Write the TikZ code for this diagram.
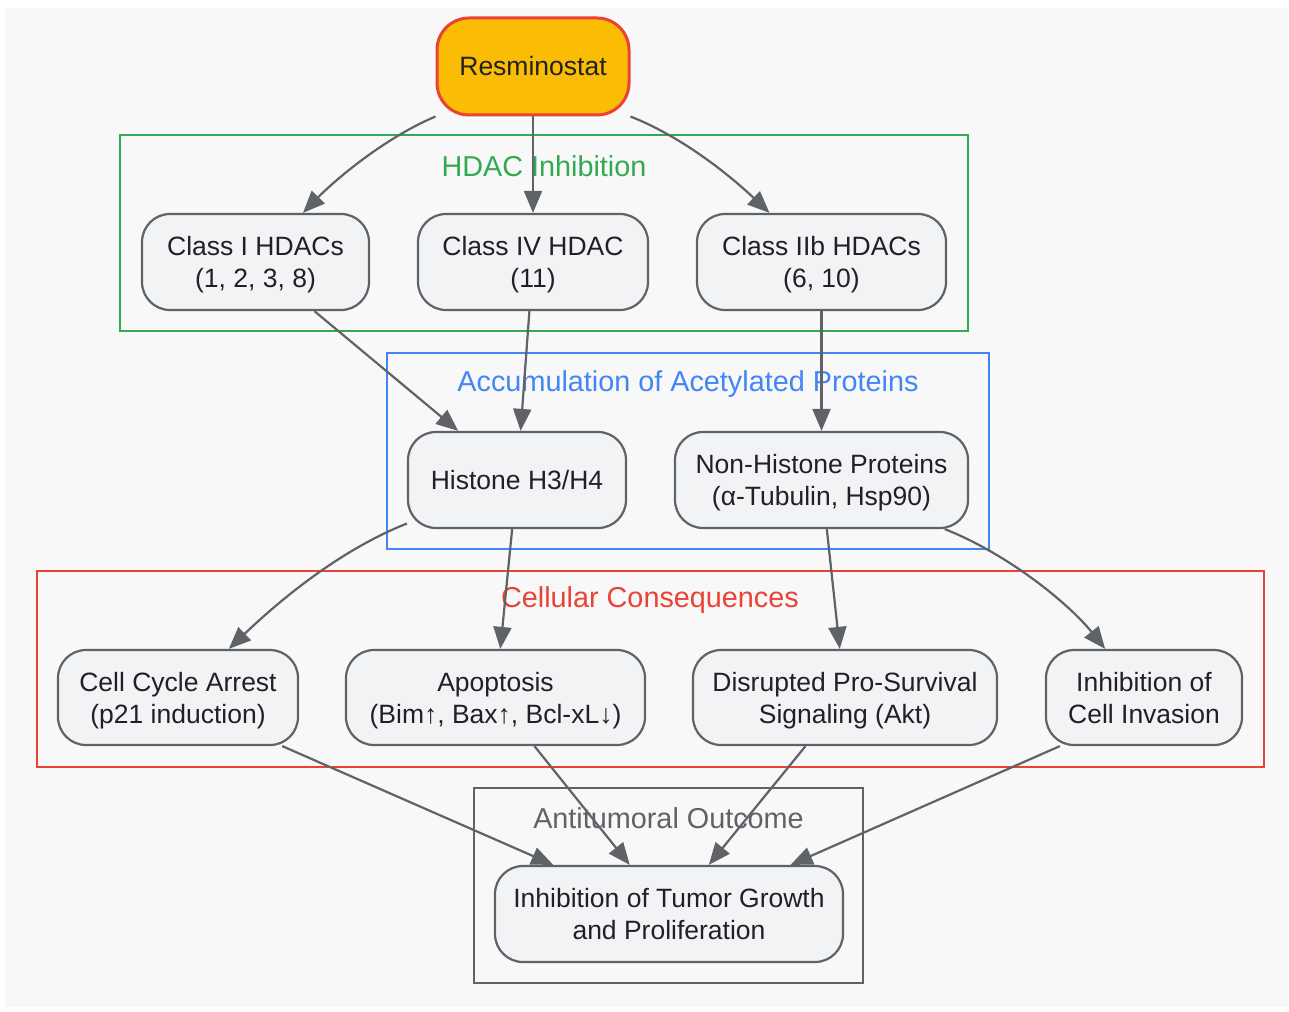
\documentclass[tikz,border=0pt]{standalone}
\usepackage{fontspec}
\setmainfont{Liberation Sans}
\usetikzlibrary{arrows.meta}
\definecolor{bg}{HTML}{F8F8F8}
\definecolor{nodefill}{HTML}{F1F3F4}
\definecolor{nodeline}{HTML}{5F6368}
\definecolor{txt}{HTML}{202124}
\definecolor{gyellow}{HTML}{FBBC04}
\definecolor{gred}{HTML}{EA4335}
\definecolor{ggreen}{HTML}{34A853}
\definecolor{gblue}{HTML}{4285F4}
\begin{document}
\begin{tikzpicture}[x=1pt,y=-1pt,
  box/.style={draw=nodeline, line width=2.2pt, fill=nodefill, rounded corners=28pt,
    text=txt, align=center, font=\fontsize{26.5}{32}\selectfont, inner sep=0pt},
  twoline/.style={text depth=0pt},
  cluster/.style={draw=#1, line width=2.2pt},
  clabel/.style={text=#1, font=\fontsize{28.8}{34}\selectfont, inner sep=0pt},
  edge/.style={draw=nodeline, line width=2.2pt, -{Triangle[length=22pt,width=18pt]}}
]
\path[use as bounding box, fill=white] (0,0) rectangle (1289,1011);
\fill[bg] (5,8) rectangle (1288,1007);

% clusters
\draw[cluster=ggreen] (120,135) rectangle (968,331);
\node[clabel=ggreen] (lhdac) at (544,166) {HDAC Inhibition};
\draw[cluster=gblue] (387,353) rectangle (989,549);
\node[clabel=gblue] (lacc) at (688,384) {Accumulation of Acetylated Proteins};
\draw[cluster=gred] (37,571) rectangle (1264,767);
\node[clabel=gred] (lcell) at (650,600) {Cellular Consequences};
\draw[cluster=nodeline] (474,788) rectangle (863,983);
\node[clabel=nodeline] (lout) at (668.5,818) {Antitumoral Outcome};

% nodes
\node[box, draw=gred, line width=3pt, fill=gyellow, rounded corners=32pt,
  minimum width=192pt, minimum height=97pt] (res) at (533,66.5) {Resminostat};
\node[box, twoline, minimum width=227pt, minimum height=96pt] (c1) at (255.5,262) {Class I HDACs\\(1, 2, 3, 8)};
\node[box, twoline, minimum width=230pt, minimum height=96pt] (c4) at (533,262) {Class IV HDAC\\(11)};
\node[box, twoline, minimum width=249pt, minimum height=96pt] (c2b) at (821.5,262) {Class IIb HDACs\\(6, 10)};
\node[box, minimum width=218pt, minimum height=96pt] (hist) at (517,480) {Histone H3/H4};
\node[box, twoline, minimum width=293pt, minimum height=96pt] (nonh) at (821.5,480) {Non-Histone Proteins\\(α-Tubulin, Hsp90)};
\node[box, twoline, minimum width=240pt, minimum height=95pt] (cca) at (178,697.5) {Cell Cycle Arrest\\(p21 induction)};
\node[box, twoline, minimum width=299pt, minimum height=95pt] (apo) at (495.5,697.5) {Apoptosis\\(Bim↑, Bax↑, Bcl-xL↓)};
\node[box, twoline, minimum width=304pt, minimum height=95pt] (dis) at (845,697.5) {Disrupted Pro-Survival\\Signaling (Akt)};
\node[box, twoline, minimum width=196pt, minimum height=95pt] (inv) at (1144,697.5) {Inhibition of\\Cell Invasion};
\node[box, twoline, minimum width=348pt, minimum height=96pt] (tum) at (669,914) {Inhibition of Tumor Growth\\and Proliferation};

% edges
\draw[edge] (res.south west) .. controls (380,140) and (330,185) .. (c1);
\draw[edge] (res) -- (c4);
\draw[edge] (res.south east) .. controls (690,140) and (740,185) .. (c2b);
\draw[edge] (c1) -- (hist);
\draw[edge] (c4) -- (hist);
\draw[edge] (c2b) -- (nonh);
\draw[edge] (hist) .. controls (340,550) and (280,600) .. (cca);
\draw[edge] (hist) -- (apo);
\draw[edge] (nonh) -- (dis);
\draw[edge] (nonh) .. controls (1010,555) and (1070,605) .. (inv);
\draw[edge] (cca.335) -- (tum.157);
\draw[edge] (apo) -- (tum);
\draw[edge] (dis) -- (tum);
\draw[edge] (inv.210) -- (tum.22);
\end{tikzpicture}
\end{document}
